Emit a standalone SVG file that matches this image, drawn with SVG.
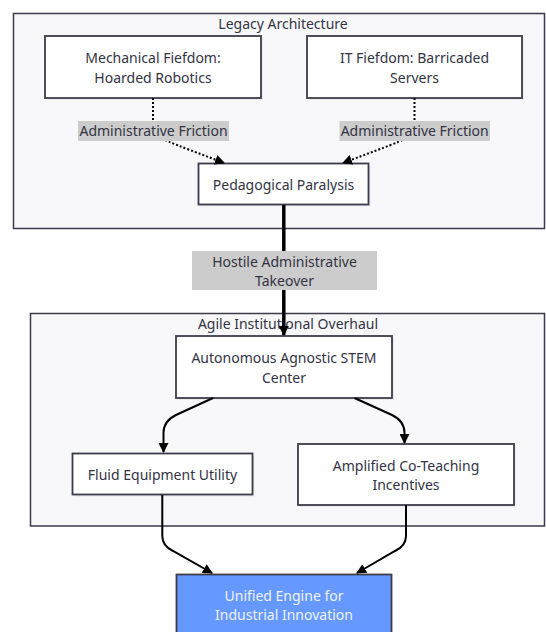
<svg xmlns="http://www.w3.org/2000/svg" width="546" height="632" viewBox="0 0 546 632">
<style>
  text { font-family: "Noto Sans", "Liberation Sans", sans-serif; font-size: 14px; fill: #333344; text-anchor: middle; dominant-baseline: central; }
  .cluster { fill: #f8f8fa; stroke: #3b3b4b; stroke-width: 1.5; }
  .node rect.box { fill: #ffffff; stroke: #3b3b4b; stroke-width: 1.8; }
  .node rect.shadow { fill: #e9e9ee; stroke: none; }
  .edge { fill: none; stroke: #000000; stroke-width: 2; }
  .dotted { stroke-dasharray: 2 2; }
  .thick { stroke-width: 3.5; }
  .elabel { fill: #cccccc; }
  .final rect.box { fill: #6699ff; }
  .final text { fill: #eef2ff; }
</style>
<defs>
  <marker id="arrow" viewBox="0 0 10 10" refX="9" refY="5" markerWidth="10" markerHeight="10" markerUnits="userSpaceOnUse" orient="auto">
    <path d="M0,0 L10,5 L0,10 z" fill="#000000"/>
  </marker>
</defs>

<g id="cluster-legacy">
  <rect class="cluster" x="13.5" y="13.5" width="531" height="215"/>
  <text x="283" y="23.5">Legacy Architecture</text>
</g>
<g id="cluster-agile">
  <rect class="cluster" x="30.5" y="313.5" width="514" height="212.5"/>
  <text x="288" y="323.5">Agile Institutional Overhaul</text>
</g>

<g id="node-mech" class="node">
  <rect class="shadow" x="47" y="38" width="216" height="62"/>
  <rect class="box" x="45" y="36" width="216" height="62"/>
  <text x="153" y="57">Mechanical Fiefdom:</text>
  <text x="153" y="77">Hoarded Robotics</text>
</g>
<g id="node-it" class="node">
  <rect class="shadow" x="309" y="38" width="215" height="62"/>
  <rect class="box" x="307" y="36" width="215" height="62"/>
  <text x="414.5" y="57">IT Fiefdom: Barricaded</text>
  <text x="414.5" y="77">Servers</text>
</g>
<g id="node-ped" class="node">
  <rect class="shadow" x="200.5" y="165.5" width="170" height="41"/>
  <rect class="box" x="198.5" y="163.5" width="170" height="41"/>
  <text x="283.5" y="184">Pedagogical Paralysis</text>
</g>
<g id="node-auto" class="node">
  <rect class="shadow" x="178" y="338" width="216" height="62"/>
  <rect class="box" x="176" y="336" width="216" height="62"/>
  <text x="284" y="357">Autonomous Agnostic STEM</text>
  <text x="284" y="377">Center</text>
</g>
<g id="node-fluid" class="node">
  <rect class="shadow" x="74.5" y="455.5" width="180" height="41"/>
  <rect class="box" x="72.5" y="453.5" width="180" height="41"/>
  <text x="162.5" y="474">Fluid Equipment Utility</text>
</g>
<g id="node-amp" class="node">
  <rect class="shadow" x="300" y="446" width="216" height="61"/>
  <rect class="box" x="298" y="444" width="216" height="61"/>
  <text x="406" y="465">Amplified Co-Teaching</text>
  <text x="406" y="484">Incentives</text>
</g>
<g id="node-unified" class="node final">
  <rect class="box" x="176.5" y="574.5" width="215" height="70"/>
  <text x="284" y="595">Unified Engine for</text>
  <text x="284" y="614">Industrial Innovation</text>
</g>

<g id="connectors">
  <path class="edge dotted" d="M153,98 L153,128 C153,138 170,142 224,163" marker-end="url(#arrow)"/>
  <path class="edge dotted" d="M414.5,98 L414.5,128 C414.5,138 398,142 343,163" marker-end="url(#arrow)"/>
  <path class="edge thick" d="M283.8,205 L283.8,335" marker-end="url(#arrow)"/>
  <path class="edge" d="M213,398 L176,415 Q163.5,421 163.5,433 L163.5,452" marker-end="url(#arrow)"/>
  <path class="edge" d="M354.5,398 L392,415 Q404.5,421 404.5,433 L404.5,443" marker-end="url(#arrow)"/>
  <path class="edge" d="M162.3,495 L162.3,536 Q162.3,546 173,551 L212,573" marker-end="url(#arrow)"/>
  <path class="edge" d="M406,505 L406,536 Q406,546 395,551 L357,573" marker-end="url(#arrow)"/>
  <g id="edge-labels">
    <rect class="elabel" x="78" y="121" width="151" height="20"/>
    <text x="153.5" y="130.5">Administrative Friction</text>
    <rect class="elabel" x="339.5" y="121" width="150.5" height="20"/>
    <text x="414.7" y="130.5">Administrative Friction</text>
    <rect class="elabel" x="192" y="251" width="185" height="39"/>
    <text x="284.5" y="261">Hostile Administrative</text>
    <text x="284.5" y="280">Takeover</text>
  </g>
</g>
</svg>
